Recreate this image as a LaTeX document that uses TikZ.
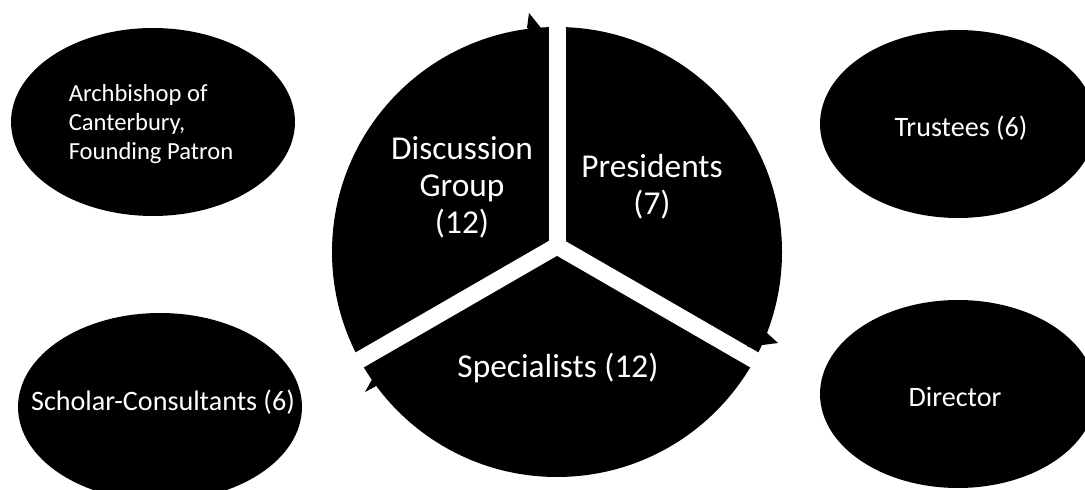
\documentclass[tikz,border=0pt]{standalone}
\usepackage{fontspec}
\setmainfont{Carlito}
\usetikzlibrary{shapes.geometric}

\begin{document}
\begin{tikzpicture}[x=0.02cm,y=0.02cm,
  blob/.style={ellipse,fill=black,inner sep=0pt,minimum width=5.68cm,minimum height=3.76cm},
  txt/.style={text=white,font=\fontsize{16}{19}\selectfont,align=left},
  big/.style={text=white,font=\fontsize{19}{21}\selectfont,align=center}]
\useasboundingbox (0,0) rectangle (1085,490);

% cycle
\fill (557,238) circle (225);
\foreach \a in {90,210,330}
  \draw[white,line width=0.34cm] (557,244) -- ++(\a:240);
\fill (527,462) -- (529,477) -- (549,452) -- cycle;
\fill (767,157) -- (778,147) -- (747,143) -- cycle;
\fill (378,105) -- (365,98) -- (385,134) -- cycle;

\node[big] (disc) at (462,303) {Discussion\\Group\\(12)};
\node[big] (pres) at (652,303) {Presidents\\(7)};
\node[big] (spec) at (558,122) {Specialists (12)};

% outer groups
\node[blob] (arch) at (153,368) {};
\node[txt,font=\fontsize{14}{16.5}\selectfont] (archtxt) at (151,366) {Archbishop of\\Canterbury,\\Founding Patron};
\node[blob] (schol) at (160,83) {};
\node[txt] (scholtxt) at (163,88) {Scholar-Consultants (6)};
\node[blob,minimum width=5.52cm] (trust) at (958,366) {};
\node[txt] (trusttxt) at (961,362) {Trustees (6)};
\node[blob,minimum width=5.52cm] (dir) at (958,96) {};
\node[txt] (dirtxt) at (955,93) {Director};

\end{tikzpicture}
\end{document}
